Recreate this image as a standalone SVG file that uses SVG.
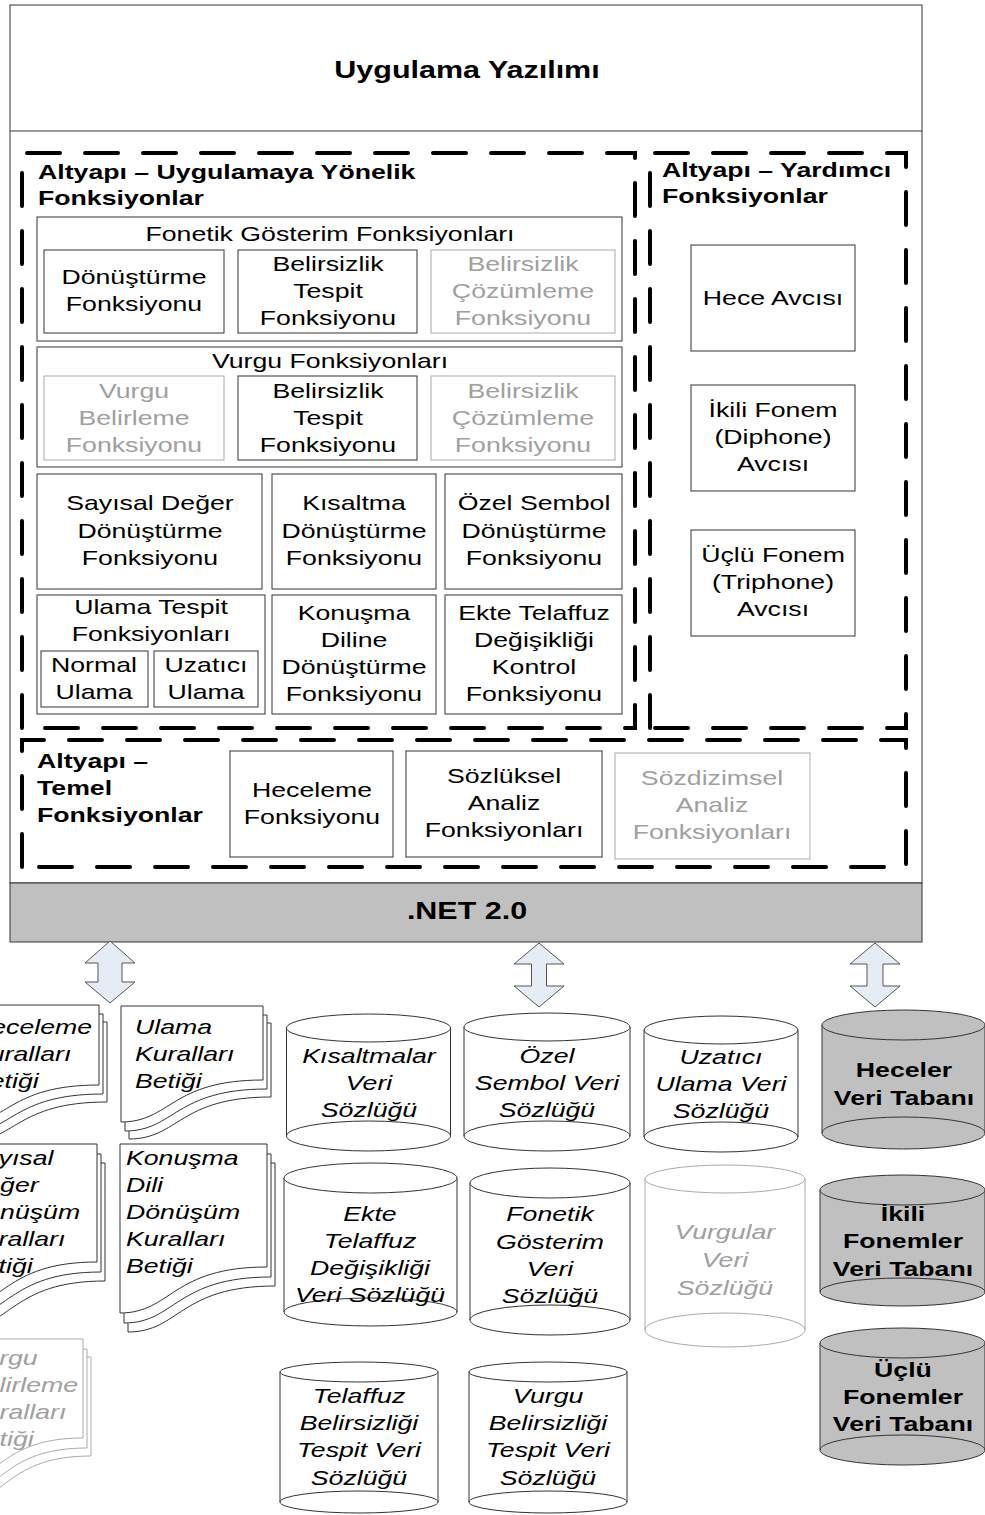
<svg xmlns="http://www.w3.org/2000/svg" width="985" height="1515" viewBox="0 0 985 1515">
<style>
.t{font-family:"Liberation Sans",Arial,sans-serif;font-size:21px;fill:#000}
.c{text-anchor:middle}
.b{font-weight:bold}
.i{font-style:italic}
.g{fill:#a0a0a0}
.big{font-size:24px;font-weight:bold}
.box{fill:#fff;stroke:#333;stroke-width:1}
.gbox{fill:#fff;stroke:#aaa;stroke-width:1}
.dash{fill:none;stroke:#000;stroke-width:4;stroke-dasharray:33 25;stroke-linecap:round}
.doc{fill:#fff;stroke:#333;stroke-width:1}
.gdoc{fill:#fff;stroke:#aaa;stroke-width:1}
.cyl{fill:#fff;stroke:#333;stroke-width:1}
.gcyl{fill:#fff;stroke:#aaa;stroke-width:1}
.dcyl{fill:#c0c0c0;stroke:#333;stroke-width:1}
.arc{fill:none;stroke:#333;stroke-width:1}
.garc{fill:none;stroke:#aaa;stroke-width:1}
.arr{fill:#e6ecf6;stroke:#555;stroke-width:1}
</style>

<g id="app">
<rect x="10" y="5" width="912" height="878" class="box"/>
<line x1="10" y1="131" x2="922" y2="131" stroke="#333"/>
<text class="t c big" transform="translate(467,0) scale(1.27,1)" x="0" y="78">Uygulama Yazılımı</text>
</g>

<g id="uygulama-group">
<path class="dash" d="M22,728 V153 H635 V728 Z"/>
<text class="t b" transform="translate(38,0) scale(1.27,1)"><tspan x="0" y="179">Altyapı – Uygulamaya Yönelik</tspan><tspan x="0" y="205">Fonksiyonlar</tspan></text>
</g>

<g id="yardimci-group">
<path class="dash" d="M650,728 V153 H906 V728 Z"/>
<text class="t b" transform="translate(662,0) scale(1.27,1)"><tspan x="0" y="177">Altyapı – Yardımcı</tspan><tspan x="0" y="203">Fonksiyonlar</tspan></text>
</g>

<g id="temel-group">
<path class="dash" d="M22,867 V740 H906 V867 Z"/>
<text class="t b" transform="translate(37,0) scale(1.27,1)"><tspan x="0" y="768">Altyapı –</tspan><tspan x="0" y="795">Temel</tspan><tspan x="0" y="822">Fonksiyonlar</tspan></text>
</g>

<g id="fonetik">
<rect x="37" y="217" width="585" height="124" class="box"/>
<text class="t c" transform="translate(330,0) scale(1.27,1)" x="0" y="241">Fonetik Gösterim Fonksiyonları</text>
</g>
<g id="fon-donusturme">
<rect x="44" y="250" width="180" height="83" class="box"/>
<text class="t c" transform="translate(134,0) scale(1.27,1)"><tspan x="0" y="284">Dönüştürme</tspan><tspan x="0" y="311">Fonksiyonu</tspan></text>
</g>
<g id="fon-tespit">
<rect x="238" y="250" width="179" height="83" class="box"/>
<text class="t c" transform="translate(328,0) scale(1.27,1)"><tspan x="0" y="271">Belirsizlik</tspan><tspan x="0" y="298">Tespit</tspan><tspan x="0" y="325">Fonksiyonu</tspan></text>
</g>
<g id="fon-cozumleme">
<rect x="431" y="250" width="184" height="83" class="gbox"/>
<text class="t c g" transform="translate(523,0) scale(1.27,1)"><tspan x="0" y="271">Belirsizlik</tspan><tspan x="0" y="298">Çözümleme</tspan><tspan x="0" y="325">Fonksiyonu</tspan></text>
</g>

<g id="vurgu">
<rect x="37" y="347" width="585" height="120" class="box"/>
<text class="t c" transform="translate(330,0) scale(1.27,1)" x="0" y="368">Vurgu Fonksiyonları</text>
</g>
<g id="vurgu-belirleme">
<rect x="44" y="376" width="180" height="84" class="gbox"/>
<text class="t c g" transform="translate(134,0) scale(1.27,1)"><tspan x="0" y="398">Vurgu</tspan><tspan x="0" y="425">Belirleme</tspan><tspan x="0" y="452">Fonksiyonu</tspan></text>
</g>
<g id="vurgu-tespit">
<rect x="238" y="376" width="179" height="84" class="box"/>
<text class="t c" transform="translate(328,0) scale(1.27,1)"><tspan x="0" y="398">Belirsizlik</tspan><tspan x="0" y="425">Tespit</tspan><tspan x="0" y="452">Fonksiyonu</tspan></text>
</g>
<g id="vurgu-cozumleme">
<rect x="431" y="376" width="184" height="84" class="gbox"/>
<text class="t c g" transform="translate(523,0) scale(1.27,1)"><tspan x="0" y="398">Belirsizlik</tspan><tspan x="0" y="425">Çözümleme</tspan><tspan x="0" y="452">Fonksiyonu</tspan></text>
</g>

<g id="sayisal">
<rect x="37" y="474" width="225" height="115" class="box"/>
<text class="t c" transform="translate(150,0) scale(1.27,1)"><tspan x="0" y="510">Sayısal Değer</tspan><tspan x="0" y="538">Dönüştürme</tspan><tspan x="0" y="565">Fonksiyonu</tspan></text>
</g>
<g id="kisaltma">
<rect x="272" y="474" width="164" height="115" class="box"/>
<text class="t c" transform="translate(354,0) scale(1.27,1)"><tspan x="0" y="510">Kısaltma</tspan><tspan x="0" y="538">Dönüştürme</tspan><tspan x="0" y="565">Fonksiyonu</tspan></text>
</g>
<g id="ozel">
<rect x="445" y="474" width="177" height="115" class="box"/>
<text class="t c" transform="translate(534,0) scale(1.27,1)"><tspan x="0" y="510">Özel Sembol</tspan><tspan x="0" y="538">Dönüştürme</tspan><tspan x="0" y="565">Fonksiyonu</tspan></text>
</g>

<g id="ulama">
<rect x="37" y="595" width="228" height="119" class="box"/>
<text class="t c" transform="translate(151,0) scale(1.27,1)"><tspan x="0" y="614">Ulama Tespit</tspan><tspan x="0" y="641">Fonksiyonları</tspan></text>
</g>
<g id="normal-ulama">
<rect x="41" y="651" width="107" height="56" class="box"/>
<text class="t c" transform="translate(94,0) scale(1.27,1)"><tspan x="0" y="672">Normal</tspan><tspan x="0" y="699">Ulama</tspan></text>
</g>
<g id="uzatici-ulama">
<rect x="154" y="651" width="104" height="56" class="box"/>
<text class="t c" transform="translate(206,0) scale(1.27,1)"><tspan x="0" y="672">Uzatıcı</tspan><tspan x="0" y="699">Ulama</tspan></text>
</g>
<g id="konusma">
<rect x="272" y="595" width="164" height="119" class="box"/>
<text class="t c" transform="translate(354,0) scale(1.27,1)"><tspan x="0" y="620">Konuşma</tspan><tspan x="0" y="647">Diline</tspan><tspan x="0" y="674">Dönüştürme</tspan><tspan x="0" y="701">Fonksiyonu</tspan></text>
</g>
<g id="ekte">
<rect x="445" y="595" width="177" height="119" class="box"/>
<text class="t c" transform="translate(534,0) scale(1.27,1)"><tspan x="0" y="620">Ekte Telaffuz</tspan><tspan x="0" y="647">Değişikliği</tspan><tspan x="0" y="674">Kontrol</tspan><tspan x="0" y="701">Fonksiyonu</tspan></text>
</g>

<g id="hece-avcisi">
<rect x="691" y="245" width="164" height="106" class="box"/>
<text class="t c" transform="translate(773,0) scale(1.27,1)" x="0" y="305">Hece Avcısı</text>
</g>
<g id="ikili-avcisi">
<rect x="691" y="385" width="164" height="106" class="box"/>
<text class="t c" transform="translate(773,0) scale(1.27,1)"><tspan x="0" y="417">İkili Fonem</tspan><tspan x="0" y="444">(Diphone)</tspan><tspan x="0" y="471">Avcısı</tspan></text>
</g>
<g id="uclu-avcisi">
<rect x="691" y="530" width="164" height="106" class="box"/>
<text class="t c" transform="translate(773,0) scale(1.27,1)"><tspan x="0" y="562">Üçlü Fonem</tspan><tspan x="0" y="589">(Triphone)</tspan><tspan x="0" y="616">Avcısı</tspan></text>
</g>

<g id="heceleme">
<rect x="230" y="751" width="163" height="106" class="box"/>
<text class="t c" transform="translate(312,0) scale(1.27,1)"><tspan x="0" y="797">Heceleme</tspan><tspan x="0" y="824">Fonksiyonu</tspan></text>
</g>
<g id="sozluksel">
<rect x="406" y="751" width="196" height="106" class="box"/>
<text class="t c" transform="translate(504,0) scale(1.27,1)"><tspan x="0" y="783">Sözlüksel</tspan><tspan x="0" y="810">Analiz</tspan><tspan x="0" y="837">Fonksiyonları</tspan></text>
</g>
<g id="sozdizimsel">
<rect x="615" y="753" width="195" height="106" class="gbox"/>
<text class="t c g" transform="translate(712,0) scale(1.27,1)"><tspan x="0" y="785">Sözdizimsel</tspan><tspan x="0" y="812">Analiz</tspan><tspan x="0" y="839">Fonksiyonları</tspan></text>
</g>

<g id="net">
<rect x="10" y="883" width="912" height="59" fill="#c0c0c0" stroke="#333"/>
<text class="t c big" transform="translate(467,0) scale(1.27,1)" x="0" y="919">.NET 2.0</text>
</g>

<g id="connectors">
<polygon class="arr" points="110,941 135,963 122,963 122,982 135,982 110,1003 85,982 98,982 98,963 85,963"/>
<polygon class="arr" points="539,943 564,964 546.5,964 546.5,986 564,986 539,1007 514,986 531.5,986 531.5,964 514,964"/>
<polygon class="arr" points="875,943 900,964 883,964 883,986 900,986 875,1007 850,986 867,986 867,964 850,964"/>
</g>

<g id="doc-heceleme">
<path class="doc" d="M-34,1022 H107 V1102 C15.4,1102 15.4,1142 -34,1142 Z"/>
<path class="doc" d="M-38,1014 H103 V1094 C11.4,1094 11.4,1134 -38,1134 Z"/>
<path class="doc" d="M-42,1005 H99 V1085 C7.4,1085 7.4,1125 -42,1125 Z"/>
<text class="t i" transform="translate(-28,0) scale(1.27,1)"><tspan x="0" y="1034">Heceleme</tspan><tspan x="0" y="1061">Kuralları</tspan><tspan x="0" y="1088">Betiği</tspan></text>
</g>
<g id="doc-ulama">
<path class="doc" d="M129,1023 H271 V1097 C178.7,1097 178.7,1139 129,1139 Z"/>
<path class="doc" d="M125,1015 H267 V1089 C174.7,1089 174.7,1131 125,1131 Z"/>
<path class="doc" d="M121,1006 H263 V1080 C170.7,1080 170.7,1122 121,1122 Z"/>
<text class="t i" transform="translate(135,0) scale(1.27,1)"><tspan x="0" y="1034">Ulama</tspan><tspan x="0" y="1061">Kuralları</tspan><tspan x="0" y="1088">Betiği</tspan></text>
</g>
<g id="doc-sayisal">
<path class="doc" d="M-40,1163 H105 V1281 C10.8,1281 10.8,1329 -40,1329 Z"/>
<path class="doc" d="M-44,1154 H101 V1272 C6.8,1272 6.8,1320 -44,1320 Z"/>
<path class="doc" d="M-48,1144 H97 V1262 C2.8,1262 2.8,1310 -48,1310 Z"/>
<text class="t i" transform="translate(-34,0) scale(1.27,1)"><tspan x="0" y="1165">Sayısal</tspan><tspan x="0" y="1192">Değer</tspan><tspan x="0" y="1219">Dönüşüm</tspan><tspan x="0" y="1246">Kuralları</tspan><tspan x="0" y="1273">Betiği</tspan></text>
</g>
<g id="doc-konusma">
<path class="doc" d="M128,1163 H275 V1286 C179.5,1286 179.5,1332 128,1332 Z"/>
<path class="doc" d="M124,1154 H271 V1277 C175.5,1277 175.5,1323 124,1323 Z"/>
<path class="doc" d="M120,1144 H267 V1267 C171.5,1267 171.5,1313 120,1313 Z"/>
<text class="t i" transform="translate(126,0) scale(1.27,1)"><tspan x="0" y="1165">Konuşma</tspan><tspan x="0" y="1192">Dili</tspan><tspan x="0" y="1219">Dönüşüm</tspan><tspan x="0" y="1246">Kuralları</tspan><tspan x="0" y="1273">Betiği</tspan></text>
</g>
<g id="doc-vurgu">
<path class="gdoc" d="M-39,1357 H91 V1456 C6.5,1456 6.5,1502 -39,1502 Z"/>
<path class="gdoc" d="M-43,1349 H87 V1448 C2.5,1448 2.5,1494 -43,1494 Z"/>
<path class="gdoc" d="M-47,1339 H83 V1438 C-1.5,1438 -1.5,1484 -47,1484 Z"/>
<text class="t i g" transform="translate(-33,0) scale(1.27,1)"><tspan x="0" y="1365">Vurgu</tspan><tspan x="0" y="1392">Belirleme</tspan><tspan x="0" y="1419">Kuralları</tspan><tspan x="0" y="1446">Betiği</tspan></text>
</g>

<g id="db-kisaltmalar">
<path class="cyl" d="M286.5,1028 V1136 A82,15 0 0 0 450.5,1136 V1028 Z"/>
<path class="arc" d="M286.5,1136 A82,15 0 0 1 450.5,1136"/>
<ellipse class="cyl" cx="368.5" cy="1028" rx="82" ry="14"/>
<text class="t c i" transform="translate(369,0) scale(1.27,1)"><tspan x="0" y="1063">Kısaltmalar</tspan><tspan x="0" y="1090">Veri</tspan><tspan x="0" y="1117">Sözlüğü</tspan></text>
</g>
<g id="db-ozel">
<path class="cyl" d="M464,1027 V1136 A83,15 0 0 0 630,1136 V1027 Z"/>
<path class="arc" d="M464,1136 A83,15 0 0 1 630,1136"/>
<ellipse class="cyl" cx="547" cy="1027" rx="83" ry="14"/>
<text class="t c i" transform="translate(547,0) scale(1.27,1)"><tspan x="0" y="1063">Özel</tspan><tspan x="0" y="1090">Sembol Veri</tspan><tspan x="0" y="1117">Sözlüğü</tspan></text>
</g>
<g id="db-uzatici">
<path class="cyl" d="M644,1030 V1137 A77,15 0 0 0 798,1137 V1030 Z"/>
<path class="arc" d="M644,1137 A77,15 0 0 1 798,1137"/>
<ellipse class="cyl" cx="721" cy="1030" rx="77" ry="14"/>
<text class="t c i" transform="translate(721,0) scale(1.27,1)"><tspan x="0" y="1064">Uzatıcı</tspan><tspan x="0" y="1091">Ulama Veri</tspan><tspan x="0" y="1118">Sözlüğü</tspan></text>
</g>
<g id="db-heceler">
<path class="dcyl" d="M822,1025 V1133 A81.5,16 0 0 0 985,1133 V1025 Z"/>
<path class="arc" d="M822,1133 A81.5,16 0 0 1 985,1133"/>
<ellipse class="dcyl" cx="903.5" cy="1025" rx="81.5" ry="15"/>
<text class="t c b" transform="translate(904,0) scale(1.27,1)"><tspan x="0" y="1077">Heceler</tspan><tspan x="0" y="1105">Veri Tabanı</tspan></text>
</g>

<g id="db-ekte">
<path class="cyl" d="M284,1178 V1312 A86.5,14 0 0 0 457,1312 V1178 Z"/>
<path class="arc" d="M284,1312 A86.5,14 0 0 1 457,1312"/>
<ellipse class="cyl" cx="370.5" cy="1178" rx="86.5" ry="15"/>
<text class="t c i" transform="translate(370,0) scale(1.27,1)"><tspan x="0" y="1221">Ekte</tspan><tspan x="0" y="1248">Telaffuz</tspan><tspan x="0" y="1275">Değişikliği</tspan><tspan x="0" y="1302">Veri Sözlüğü</tspan></text>
</g>
<g id="db-fonetik">
<path class="cyl" d="M470,1183 V1320 A80,15 0 0 0 630,1320 V1183 Z"/>
<path class="arc" d="M470,1320 A80,15 0 0 1 630,1320"/>
<ellipse class="cyl" cx="550" cy="1183" rx="80" ry="15"/>
<text class="t c i" transform="translate(550,0) scale(1.27,1)"><tspan x="0" y="1221">Fonetik</tspan><tspan x="0" y="1249">Gösterim</tspan><tspan x="0" y="1276">Veri</tspan><tspan x="0" y="1303">Sözlüğü</tspan></text>
</g>
<g id="db-vurgular">
<path class="gcyl" d="M645,1179 V1330 A80,17 0 0 0 805,1330 V1179 Z"/>
<path class="garc" d="M645,1330 A80,17 0 0 1 805,1330"/>
<ellipse class="gcyl" cx="725" cy="1179" rx="80" ry="14"/>
<text class="t c i g" transform="translate(725,0) scale(1.27,1)"><tspan x="0" y="1239">Vurgular</tspan><tspan x="0" y="1267">Veri</tspan><tspan x="0" y="1295">Sözlüğü</tspan></text>
</g>
<g id="db-ikili">
<path class="dcyl" d="M820,1190 V1292 A82.5,14 0 0 0 985,1292 V1190 Z"/>
<path class="arc" d="M820,1292 A82.5,14 0 0 1 985,1292"/>
<ellipse class="dcyl" cx="902.5" cy="1190" rx="82.5" ry="15"/>
<text class="t c b" transform="translate(903,0) scale(1.27,1)"><tspan x="0" y="1221">İkili</tspan><tspan x="0" y="1248">Fonemler</tspan><tspan x="0" y="1276">Veri Tabanı</tspan></text>
</g>
<g id="db-uclu">
<path class="dcyl" d="M820,1343 V1450 A82.5,15 0 0 0 985,1450 V1343 Z"/>
<path class="arc" d="M820,1450 A82.5,15 0 0 1 985,1450"/>
<ellipse class="dcyl" cx="902.5" cy="1343" rx="82.5" ry="15"/>
<text class="t c b" transform="translate(903,0) scale(1.27,1)"><tspan x="0" y="1377">Üçlü</tspan><tspan x="0" y="1404">Fonemler</tspan><tspan x="0" y="1431">Veri Tabanı</tspan></text>
</g>
<g id="db-telaffuz">
<path class="cyl" d="M280,1372 V1502 A79,11 0 0 0 438,1502 V1372 Z"/>
<path class="arc" d="M280,1502 A79,11 0 0 1 438,1502"/>
<ellipse class="cyl" cx="359" cy="1372" rx="79" ry="10"/>
<text class="t c i" transform="translate(359,0) scale(1.27,1)"><tspan x="0" y="1403">Telaffuz</tspan><tspan x="0" y="1430">Belirsizliği</tspan><tspan x="0" y="1457">Tespit Veri</tspan><tspan x="0" y="1485">Sözlüğü</tspan></text>
</g>
<g id="db-vurgu-bel">
<path class="cyl" d="M469,1372 V1502 A79,11 0 0 0 627,1502 V1372 Z"/>
<path class="arc" d="M469,1502 A79,11 0 0 1 627,1502"/>
<ellipse class="cyl" cx="548" cy="1372" rx="79" ry="10"/>
<text class="t c i" transform="translate(548,0) scale(1.27,1)"><tspan x="0" y="1403">Vurgu</tspan><tspan x="0" y="1430">Belirsizliği</tspan><tspan x="0" y="1457">Tespit Veri</tspan><tspan x="0" y="1485">Sözlüğü</tspan></text>
</g>
</svg>
